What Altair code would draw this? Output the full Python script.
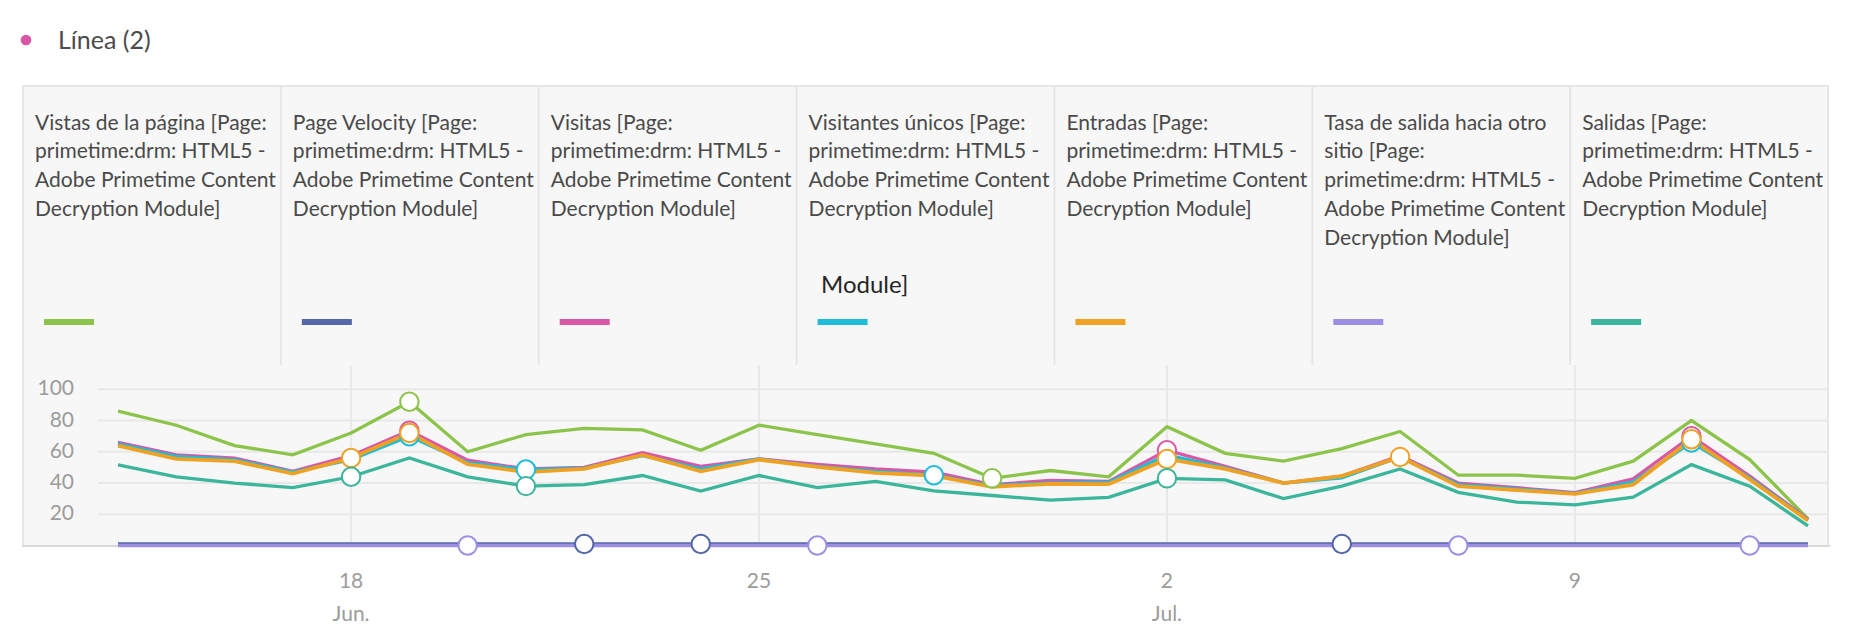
import altair as alt
import pandas as pd

# ---------------- data ----------------
dates = list(pd.date_range("2018-06-14", "2018-07-13", freq="D").strftime("%Y-%m-%d"))

vistas = [86, 77, 64, 58, 72, 92, 60, 71, 75, 74, 61, 77, 71, 65, 59,
          43, 48, 44, 76, 59, 54, 62, 73, 45, 45, 43, 54, 80, 55, 17]
velocity = [1.0, 1.0, 1.0, 1.0, 1.0, 1.0, 1.0, 1.0, 1.0, 1.0, 1.0, 1.0, 1.0, 1.0, 1.0,
            1.0, 1.0, 1.0, 1.0, 1.0, 1.0, 1.0, 1.0, 1.0, 1.0, 1.0, 1.0, 1.0, 1.0, 1.0]
visitas = [66, 58, 56, 47.5, 57.5, 73.5, 54.6, 49, 50, 59.4, 50.7, 55.4, 52, 49, 47,
           39, 41.6, 41, 61, 50.7, 40, 44.4, 57.5, 40, 37, 33.8, 42.7, 70, 44.4, 16.8]
visitantes = [65, 57, 55, 47, 55, 70, 53, 48.6, 49.5, 57.5, 49, 55.4, 50.7, 47.5, 45,
              38.4, 40, 40.5, 58, 49.7, 40, 43.3, 56.7, 39, 36.3, 33.3, 40.8, 66, 43.3, 16.3]
entradas = [64, 55.4, 54, 46, 56, 72, 52, 47, 49, 58, 47.5, 55, 50.3, 46.5, 44.8,
            37.6, 39.5, 39.3, 55.4, 49, 40, 44.4, 56.7, 38, 35.5, 33, 39, 68, 42.3, 16]
tasa = [0, 0, 0, 0, 0, 0, 0, 0, 0, 0, 0, 0, 0, 0, 0,
        0, 0, 0, 0, 0, 0, 0, 0, 0, 0, 0, 0, 0, 0, 0]
salidas = [51.6, 44, 40, 37, 44, 56, 44, 38, 39, 44.8, 34.8, 44.8, 37, 41, 35,
           32, 29, 30.8, 43, 42, 30, 38, 49, 34, 27.8, 26, 31, 51.8, 38, 12.5]

# highlighted points (white circles)
marks_vistas = ["2018-06-19", "2018-06-29"]
marks_velocity = ["2018-06-22", "2018-06-24", "2018-07-05"]
marks_tasa = ["2018-06-20", "2018-06-26", "2018-07-07", "2018-07-12"]
marks_visitas = ["2018-06-19", "2018-07-02", "2018-07-11"]
marks_visitantes = ["2018-06-19", "2018-06-21", "2018-06-28", "2018-07-11"]
marks_entradas = ["2018-06-18", "2018-06-19", "2018-07-02", "2018-07-06", "2018-07-11"]
marks_salidas = ["2018-06-18", "2018-06-21", "2018-07-02"]

series_names = ["Vistas de la página", "Page Velocity", "Visitas", "Visitantes únicos",
                "Entradas", "Tasa de salida hacia otro sitio", "Salidas"]
series_colors = ["#8cc44b", "#5467a6", "#d957a6", "#1ebdd7", "#efa124", "#9c8ee2", "#3bb59b"]
series_values = [vistas, velocity, visitas, visitantes, entradas, tasa, salidas]
series_marks = [marks_vistas, marks_velocity, marks_visitas, marks_visitantes,
                marks_entradas, marks_tasa, marks_salidas]

card_labels = [
    "Vistas de la página [Page:\nprimetime:drm: HTML5 -\nAdobe Primetime Content\nDecryption Module]",
    "Page Velocity [Page:\nprimetime:drm: HTML5 -\nAdobe Primetime Content\nDecryption Module]",
    "Visitas [Page:\nprimetime:drm: HTML5 -\nAdobe Primetime Content\nDecryption Module]",
    "Visitantes únicos [Page:\nprimetime:drm: HTML5 -\nAdobe Primetime Content\nDecryption Module]",
    "Entradas [Page:\nprimetime:drm: HTML5 -\nAdobe Primetime Content\nDecryption Module]",
    "Tasa de salida hacia otro\nsitio [Page:\nprimetime:drm: HTML5 -\nAdobe Primetime Content\nDecryption Module]",
    "Salidas [Page:\nprimetime:drm: HTML5 -\nAdobe Primetime Content\nDecryption Module]",
]

y_ticks = [20, 40, 60, 80, 100]
x_tick_dates = ["2018-06-18", "2018-06-25", "2018-07-02", "2018-07-09"]
x_tick_labels = ["18", "25", "2", "9"]
x_month_dates = ["2018-06-18", "2018-07-02"]
x_month_labels = ["Jun.", "Jul."]

legend_title = "Línea (2)"

# ---------------- tables ----------------
rows = []
for name, vals in zip(series_names, series_values):
    for d, v in zip(dates, vals):
        rows.append({"date": d, "series": name, "value": v})
df = pd.DataFrame(rows)

mrows = []
for name, vals, mk in zip(series_names, series_values, series_marks):
    lookup = dict(zip(dates, vals))
    for d in mk:
        mrows.append({"date": d, "series": name, "value": lookup[d]})
mdf = pd.DataFrame(mrows)

cards = pd.DataFrame({"card": list(range(7)), "label": card_labels, "color": series_colors})
dividers = pd.DataFrame({"card": list(range(1, 7))})
ydf = pd.DataFrame({"v": y_ticks, "t": [str(v) for v in y_ticks]})
xdf = pd.DataFrame({"date": x_tick_dates, "t": x_tick_labels})
mdf_month = pd.DataFrame({"date": x_month_dates, "t": x_month_labels})
one = pd.DataFrame({"a": [0]})

# ---------------- scales ----------------
FONT = "Lato"
x_scale = alt.Scale(type="utc",
                    domain=[alt.DateTime(year=2018, month=6, date=14, utc=True),
                            alt.DateTime(year=2018, month=7, date=13, utc=True)],
                    range=[118, 1808], nice=False)
y_scale = alt.Scale(domain=[0, 100], range=[545.5, 389.3], nice=False, zero=False)
card_scale = alt.Scale(domain=[0, 7], range=[23, 1828], nice=False, zero=False)

X = alt.X("date:T", scale=x_scale, axis=None)
Y = alt.Y("value:Q", scale=y_scale, axis=None)

layers = []

# panel background
layers.append(alt.Chart(one).mark_rect(fill="#f7f7f7", stroke="#e6e6e6", strokeWidth=2).encode(
    x=alt.value(23), x2=alt.value(1828), y=alt.value(86), y2=alt.value(546)))

# card dividers
layers.append(alt.Chart(dividers).mark_rule(color="#e6e6e6", strokeWidth=2).encode(
    x=alt.X("card:Q", scale=card_scale, axis=None), y=alt.value(86), y2=alt.value(365)))

# card texts
layers.append(alt.Chart(cards).mark_text(align="left", baseline="top", dx=12, font=FONT,
                                         fontSize=21, lineBreak="\n", lineHeight=28.8,
                                         color="#4a4a4a").encode(
    x=alt.X("card:Q", scale=card_scale, axis=None), y=alt.value(112.5), text="label:N"))

# card swatches
layers.append(alt.Chart(cards).mark_tick(orient="horizontal", size=50, thickness=6, xOffset=46,
                                         opacity=1).encode(
    x=alt.X("card:Q", scale=card_scale, axis=None), y=alt.value(322),
    color=alt.Color("color:N", scale=None)))

# stray "Module]" text
layers.append(alt.Chart(one).mark_text(align="left", baseline="middle", font=FONT, fontSize=24,
                                       color="#262626", text="Module]").encode(
    x=alt.value(821), y=alt.value(286)))

# top legend
layers.append(alt.Chart(one).mark_circle(size=115, color="#d957a6", opacity=1).encode(
    x=alt.value(26), y=alt.value(40)))
layers.append(alt.Chart(one).mark_text(align="left", baseline="middle", font=FONT, fontSize=25,
                                       color="#4b4b4b", text=legend_title).encode(
    x=alt.value(58), y=alt.value(41)))

# vertical gridlines
layers.append(alt.Chart(xdf).mark_rule(color="#e8e8e8", strokeWidth=2).encode(
    x=X, y=alt.value(365), y2=alt.value(545)))

# horizontal gridlines
layers.append(alt.Chart(ydf).mark_rule(color="#e8e8e8", strokeWidth=2).encode(
    y=alt.Y("v:Q", scale=y_scale, axis=None), x=alt.value(98), x2=alt.value(1828)))

# x axis base line
layers.append(alt.Chart(one).mark_rule(color="#d9d9d9", strokeWidth=2).encode(
    y=alt.value(546), x=alt.value(22), x2=alt.value(1830)))

# y labels
layers.append(alt.Chart(ydf).mark_text(align="right", baseline="middle", font=FONT, fontSize=21,
                                       color="#9c9c9c").encode(
    y=alt.Y("v:Q", scale=y_scale, axis=None), x=alt.value(74), text="t:N"))

# x labels
layers.append(alt.Chart(xdf).mark_text(align="center", baseline="middle", font=FONT, fontSize=21,
                                       color="#9c9c9c").encode(
    x=X, y=alt.value(582), text="t:N"))
layers.append(alt.Chart(mdf_month).mark_text(align="center", baseline="middle", font=FONT,
                                             fontSize=21, color="#9c9c9c").encode(
    x=X, y=alt.value(615), text="t:N"))

# lines, in drawing order
order = ["Vistas de la página", "Page Velocity", "Tasa de salida hacia otro sitio",
         "Visitas", "Visitantes únicos", "Entradas", "Salidas"]
color_of = dict(zip(series_names, series_colors))
for name in order:
    sw = 3.8 if name == "Entradas" else 3.3
    layers.append(alt.Chart(df[df.series == name]).mark_line(
        color=color_of[name], strokeWidth=sw, strokeJoin="miter").encode(x=X, y=Y))

# markers
for name in order:
    sub = mdf[mdf.series == name]
    if len(sub):
        layers.append(alt.Chart(sub).mark_point(
            shape="circle", filled=True, fill="white", stroke=color_of[name],
            strokeWidth=2, size=340, opacity=1, fillOpacity=1).encode(x=X, y=Y))

chart = alt.layer(*layers).resolve_scale(x="independent", y="independent").properties(
    width=1852, height=636, autosize=alt.AutoSizeParams(type="none"), padding=0,
    background="white"
).configure_view(stroke=None)

chart.save("out.html", embed_options={"renderer": "svg", "actions": False})
